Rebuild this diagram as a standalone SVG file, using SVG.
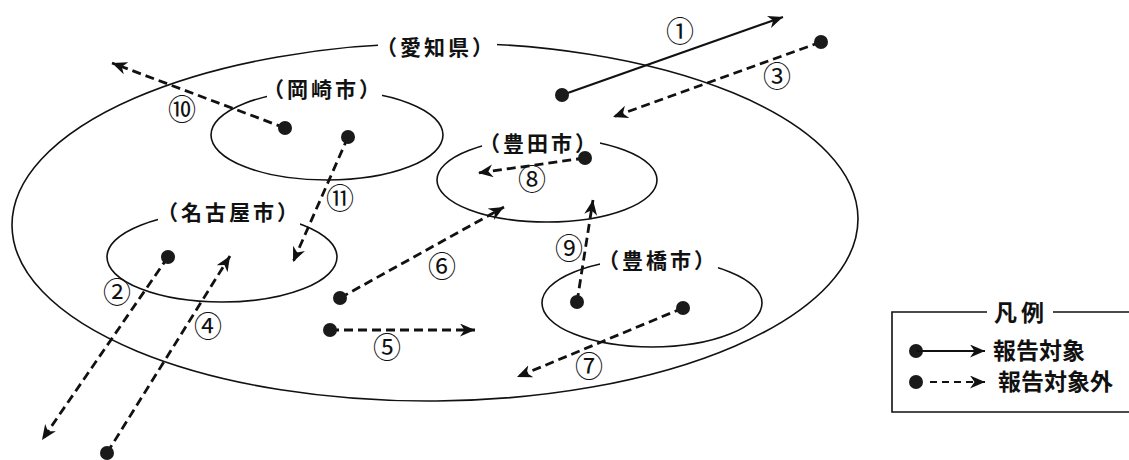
<svg xmlns="http://www.w3.org/2000/svg" width="1129" height="460" viewBox="0 0 1129 460">
<style>
.ell{fill:none;stroke:#111;stroke-width:1.6}
.gap{fill:#fff}
.lbl{font-family:"Noto Sans CJK JP","Noto Sans",sans-serif;font-size:21px;font-weight:bold;letter-spacing:3px;fill:#111;text-anchor:middle}
.num{font-family:"Noto Sans CJK JP","DejaVu Sans",sans-serif;font-size:28px;fill:#111;text-anchor:middle}
.solid{fill:none;stroke:#111;stroke-width:2.2;marker-end:url(#ah)}
.dash{fill:none;stroke:#111;stroke-width:2.8;stroke-dasharray:9 5;marker-end:url(#ah)}
.dot{fill:#1a1a1a}
.leg{font-family:"Noto Sans CJK JP","Noto Sans",sans-serif;font-size:23px;font-weight:bold;fill:#111}
</style>
<defs>
<marker id="ah" markerUnits="userSpaceOnUse" markerWidth="17" markerHeight="14" refX="15" refY="6.5" orient="auto">
<path d="M0,0 L15,6.5 L0,13 L4.5,6.5 Z" fill="#111"/>
</marker>
</defs>
<rect width="1129" height="460" fill="#fff"/>
<g id="aichi">
<ellipse class="ell" cx="435" cy="222" rx="423" ry="179" transform="rotate(-0.5 435 222)"/>
<rect class="gap" x="378" y="32" width="119" height="28"/>
<text class="lbl" x="436" y="55">（愛知県）</text>
</g>
<g id="okazaki">
<ellipse class="ell" cx="327" cy="135" rx="116" ry="45"/>
<rect class="gap" x="267" y="76" width="115" height="26"/>
<text class="lbl" x="323" y="97">（岡崎市）</text>
</g>
<g id="toyota">
<ellipse class="ell" cx="547" cy="180" rx="110" ry="42"/>
<rect class="gap" x="482" y="130" width="118" height="26"/>
<text class="lbl" x="539" y="151">（豊田市）</text>
</g>
<g id="nagoya">
<ellipse class="ell" cx="222" cy="257" rx="115" ry="45"/>
<rect class="gap" x="158" y="199" width="142" height="26"/>
<text class="lbl" x="229" y="220">（名古屋市）</text>
</g>
<g id="toyohashi">
<ellipse class="ell" cx="652" cy="303" rx="110" ry="44"/>
<rect class="gap" x="600" y="247" width="118" height="26"/>
<text class="lbl" x="658" y="268">（豊橋市）</text>
</g>
<g id="connectors">
<path class="solid" d="M562,95 L783,17"/>
<path class="dash" d="M821,42 L613,117"/>
<path class="dash" d="M285,128 L112,63"/>
<path class="dash" d="M348,137 L293,262"/>
<path class="dash" d="M585,158 L478,173"/>
<path class="dash" d="M340,298 L504,207"/>
<path class="dash" d="M330,330 L475,330"/>
<path class="dash" d="M577,302 L593,200"/>
<path class="dash" d="M683,308 L517,377"/>
<path class="dash" d="M168,257 L42,440"/>
<path class="dash" d="M107,453 L230,256"/>
</g>
<g id="points">
<circle class="dot" cx="562" cy="95" r="7"/>
<circle class="dot" cx="821" cy="42" r="7"/>
<circle class="dot" cx="285" cy="128" r="7"/>
<circle class="dot" cx="348" cy="137" r="7"/>
<circle class="dot" cx="585" cy="158" r="7"/>
<circle class="dot" cx="340" cy="298" r="7"/>
<circle class="dot" cx="330" cy="330" r="7"/>
<circle class="dot" cx="577" cy="302" r="7"/>
<circle class="dot" cx="683" cy="308" r="7"/>
<circle class="dot" cx="168" cy="257" r="7"/>
<circle class="dot" cx="107" cy="453" r="7"/>
</g>
<g id="numbers">
<text class="num" x="680" y="42">①</text>
<text class="num" x="117" y="303">②</text>
<text class="num" x="777" y="87">③</text>
<text class="num" x="208" y="337">④</text>
<text class="num" x="387" y="358">⑤</text>
<text class="num" x="442" y="277">⑥</text>
<text class="num" x="589" y="377">⑦</text>
<text class="num" x="532" y="190">⑧</text>
<text class="num" x="569" y="259">⑨</text>
<text class="num" x="182" y="120">⑩</text>
<text class="num" x="340" y="209">⑪</text>
</g>
<g id="legend">
<path d="M987,312 L892,312 L892,412 L1129,412 M1053,312 L1129,312" fill="none" stroke="#111" stroke-width="1.6"/>
<text class="leg" x="1021" y="321" text-anchor="middle" letter-spacing="4">凡例</text>
<circle class="dot" cx="916" cy="351" r="7"/>
<path d="M916,351 L985,351" fill="none" stroke="#111" stroke-width="2" marker-end="url(#ah)"/>
<text class="leg" x="993" y="359">報告対象</text>
<circle class="dot" cx="916" cy="382" r="7"/>
<path d="M930,382 L985,382" fill="none" stroke="#111" stroke-width="2" stroke-dasharray="7 5" marker-end="url(#ah)"/>
<text class="leg" x="998" y="390">報告対象外</text>
</g>
</svg>
